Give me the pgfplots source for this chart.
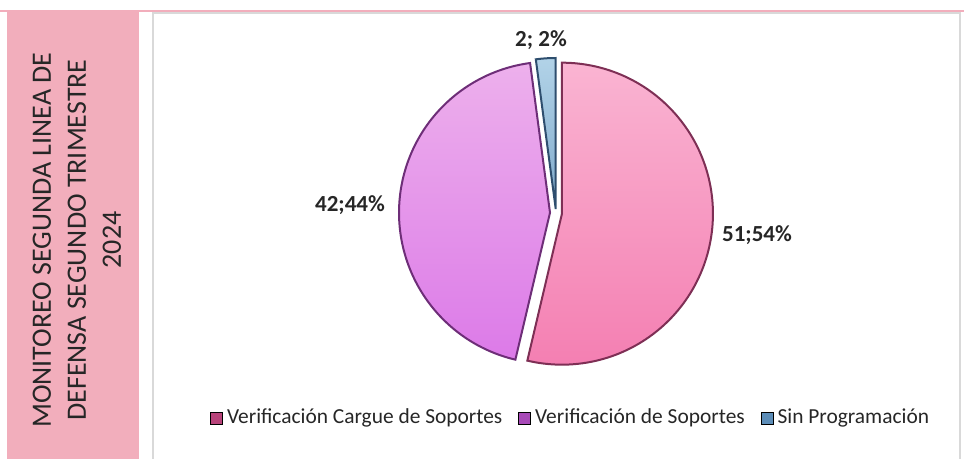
\documentclass[border=0pt]{standalone}
\usepackage{fontspec}
\setmainfont{Carlito}
\usepackage{pgfplots}
\pgfplotsset{compat=1.18}
\definecolor{panel}{HTML}{F2AEBC}
\definecolor{txt}{HTML}{262626}
\definecolor{pinkT}{HTML}{FAB4D2}
\definecolor{pinkB}{HTML}{F47FB2}
\definecolor{pinkE}{HTML}{7E2F55}
\definecolor{purT}{HTML}{EDB0EC}
\definecolor{purB}{HTML}{DC7AE8}
\definecolor{purE}{HTML}{6E2E78}
\definecolor{bluT}{HTML}{B2D3E8}
\definecolor{bluB}{HTML}{7FAACB}
\definecolor{bluE}{HTML}{2E4E6E}
\definecolor{legA}{HTML}{B8437A}
\definecolor{legB}{HTML}{A84AB8}
\definecolor{legC}{HTML}{5C8DB8}
% data
\def\vA{51}\def\vB{42}\def\vC{2}
\pgfmathsetmacro{\tot}{\vA+\vB+\vC}
\pgfmathsetmacro{\aA}{90-360*(\vA/\tot)}
\pgfmathsetmacro{\aB}{\aA-360*(\vB/\tot)}
\pgfmathsetmacro{\aC}{\aB-360*(\vC/\tot)}
\pgfmathsetmacro{\mA}{(90+\aA)/2}
\pgfmathsetmacro{\mB}{(\aA+\aB)/2}
\pgfmathsetmacro{\mC}{(\aB+\aC)/2}
\pgfmathsetmacro{\cAx}{556+6*cos(\mA)}\pgfmathsetmacro{\cAy}{246+6*sin(\mA)}
\pgfmathsetmacro{\cBx}{556+6*cos(\mB)}\pgfmathsetmacro{\cBy}{246+6*sin(\mB)}
\pgfmathsetmacro{\cCx}{556+4*cos(\mC)}\pgfmathsetmacro{\cCy}{246+4*sin(\mC)}
\def\R{151}
\begin{document}
\begin{tikzpicture}
\useasboundingbox (0,0) rectangle (482pt,229.5pt);
\begin{axis}[
  at={(0,0)}, anchor=south west,
  scale only axis, width=482pt, height=229.5pt,
  xmin=0, xmax=964, ymin=0, ymax=459,
  hide axis, clip=false,
  legend image code/.code={\fill[#1] (0pt,-3pt) rectangle (6pt,3pt);},
  legend style={at={(0.593,0.0893)}, anchor=center, draw=none, fill=none,
    legend columns=3, font=\fontsize{10.7}{12}\selectfont, text=txt,
    /tikz/every even column/.append style={column sep=6pt}},
  legend cell align=left,
]
\fill[panel] (axis cs:7,0) rectangle (axis cs:139,448);
\draw[panel, line width=1pt] (axis cs:0,447.5) -- (axis cs:964,447.5);
\draw[black!15, line width=0.8pt] (axis cs:153,0) -- (axis cs:153,446) -- (axis cs:960,446) -- (axis cs:960,0);
\node[rotate=90, align=center, font=\fontsize{14}{17.5}\selectfont, text=txt] at (axis cs:77,219)
  {MONITOREO SEGUNDA LINEA DE\\DEFENSA SEGUNDO TRIMESTRE\\2024};

\addplot[draw=pinkE, line width=1pt, top color=pinkT, bottom color=pinkB,
  domain=\aA:90, samples=120, variable=\t, forget plot]
  ({\cAx+\R*cos(\t)},{\cAy+\R*sin(\t)}) -- (axis cs:\cAx,\cAy) -- cycle;
\addplot[draw=purE, line width=1pt, top color=purT, bottom color=purB,
  domain=\aB:\aA, samples=120, variable=\t, forget plot]
  ({\cBx+\R*cos(\t)},{\cBy+\R*sin(\t)}) -- (axis cs:\cBx,\cBy) -- cycle;
\addplot[draw=bluE, line width=1pt, top color=bluT, bottom color=bluB,
  domain=\aC:\aB, samples=20, variable=\t, forget plot]
  ({\cCx+\R*cos(\t)},{\cCy+\R*sin(\t)}) -- (axis cs:\cCx,\cCy) -- cycle;

\addlegendimage{fill=legA}
\addlegendentry{Verificación Cargue de Soportes}
\addlegendimage{fill=legB}
\addlegendentry{Verificación de Soportes}
\addlegendimage{fill=legC}
\addlegendentry{Sin Programación}

\node[font=\bfseries\fontsize{11.5}{13}\selectfont, text=txt] at (axis cs:757,224) {51;54\%};
\node[font=\bfseries\fontsize{11.5}{13}\selectfont, text=txt] at (axis cs:350,254) {42;44\%};
\node[font=\bfseries\fontsize{11.5}{13}\selectfont, text=txt] at (axis cs:541,419) {2; 2\%};
\end{axis}
\end{tikzpicture}
\end{document}
